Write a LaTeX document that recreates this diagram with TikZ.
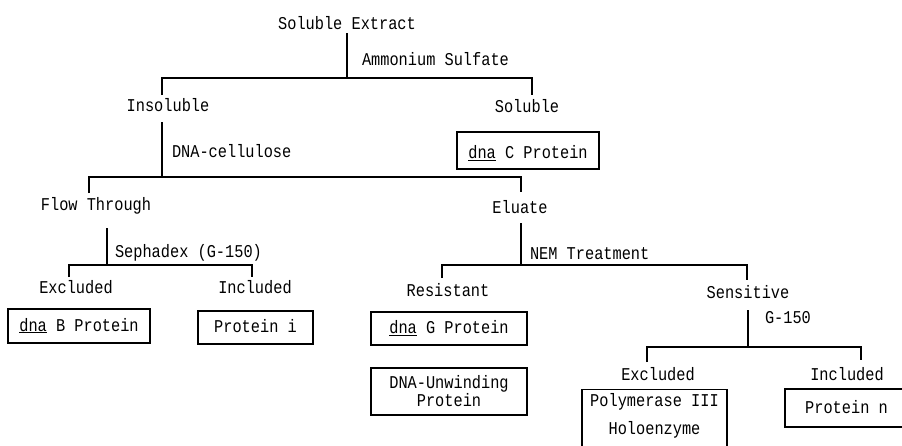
\documentclass[tikz,border=0pt]{standalone}
\usepackage{fontspec}
\newfontfamily\twfont[FakeStretch=0.85]{Liberation Mono}
\newcommand\dnaul[1]{\underline{#1}}
\tikzset{
  tfont/.style={font={\twfont\fontsize{18}{18}\selectfont}},
  lbl/.style={tfont, anchor=base, inner sep=0pt, outer sep=0pt, text height=12pt, text depth=4pt},
  lblw/.style={lbl, anchor=base west},
  conn/.style={line width=1.6pt},
  boxline/.style={line width=1.6pt},
  pbox/.style={tfont, draw, line width=1.6pt, inner sep=0pt, text height=12pt, text depth=2pt},
  pbox2/.style={tfont, draw, line width=1.6pt, inner sep=0pt, align=center},
}
\begin{document}
\begin{tikzpicture}[x=1pt,y=-1pt]
\clip (0,0) rectangle (902,445);
\useasboundingbox (0,0) rectangle (902,445);
% labels
\node[lbl] (se) at (347,29) {Soluble Extract};
\node[lblw] (ams) at (362,65) {Ammonium Sulfate};
\node[lbl] (ins) at (168,111) {Insoluble};
\node[lbl] (sol) at (527,112) {Soluble};
\node[pbox, minimum width=142pt, minimum height=37pt] (bC) at (528,150.5) {\raisebox{-3pt}{\dnaul{dna} C Protein}};
\node[lblw] (dnac) at (172,157) {DNA-cellulose};
\node[lbl] (ft) at (96,210) {Flow Through};
\node[lbl] (el) at (520,213) {Eluate};
\node[lblw] (seph) at (115,257) {Sephadex (G-150)};
\node[lblw] (nem) at (530,259) {NEM Treatment};
\node[lbl] (exl) at (76,293) {Excluded};
\node[lbl] (inl) at (255,293) {Included};
\node[lbl] (res) at (448,296) {Resistant};
\node[lbl] (sens) at (748,298) {Sensitive};
\node[lblw] (g150) at (765,323) {G-150};
\node[lbl] (exr) at (658,380) {Excluded};
\node[lbl] (inr) at (847,380) {Included};
% boxes
\node[pbox, minimum width=142pt, minimum height=34pt] (bB) at (79,326) {\dnaul{dna} B Protein};
\node[pbox, minimum width=115pt, minimum height=33pt] (bI) at (255.5,327.5) {Protein i};
\node[pbox, minimum width=156pt, minimum height=33pt] (bG) at (449,328.5) {\dnaul{dna} G Protein};
\node[pbox2, minimum width=156pt, minimum height=47pt] (bU) at (449,391.5) {DNA-Unwinding\\Protein};
\node[tfont, inner sep=0pt, align=center] (pol) at (654.5,415.5) {Polymerase III\\[10pt]Holoenzyme};
\draw[boxline] ([xshift=-72.5pt,yshift=3.5pt]pol.north) rectangle ([xshift=72.5pt,yshift=-40pt]pol.south);
\node[pbox, minimum width=123pt, minimum height=38pt] (bN) at (846.5,408) {Protein n};
% branch coordinates
\coordinate (b1) at (347,78); \coordinate (b1l) at (162,78); \coordinate (b1r) at (532,78);
\coordinate (b2) at (162,177); \coordinate (b2l) at (89,177); \coordinate (b2r) at (521,177);
\coordinate (b3) at (107,265); \coordinate (b3l) at (69,265); \coordinate (b3r) at (252,265);
\coordinate (b4) at (521,265); \coordinate (b4l) at (442,265); \coordinate (b4r) at (747,265);
\coordinate (b5) at (748,347); \coordinate (b5l) at (647,347); \coordinate (b5r) at (861,347);
% connectors
\draw[conn] (se.south) -- (b1);
\draw[conn] (ins.north -| b1l) ++(0,-4) -- (b1l) -- (b1r) -- ([yshift=5pt]sol.north -| b1r);
\draw[conn, shorten <=7pt] (ins.south -| b2) -- (b2);
\draw[conn] (ft.north -| b2l) ++(0,-5) -- (b2l) -- (b2r) -- ([yshift=9pt]el.north -| b2r);
\draw[conn, shorten <=14pt] (ft.south -| b3) -- (b3);
\draw[conn] (exl.north -| b3l) ++(0,-4) -- (b3l) -- (b3r) -- ([yshift=4pt]inl.north -| b3r);
\draw[conn, shorten <=6pt] (el.south -| b4) -- (b4);
\draw[conn] (res.north -| b4l) ++(0,-6) -- (b4l) -- (b4r) -- ([yshift=6pt]sens.north -| b4r);
\draw[conn, shorten <=8pt] (sens.south -| b5) -- (b5);
\draw[conn] (exr.north -| b5l) ++(0,-6) -- (b5l) -- (b5r) -- ([yshift=8pt]inr.north -| b5r);
\end{tikzpicture}
\end{document}
